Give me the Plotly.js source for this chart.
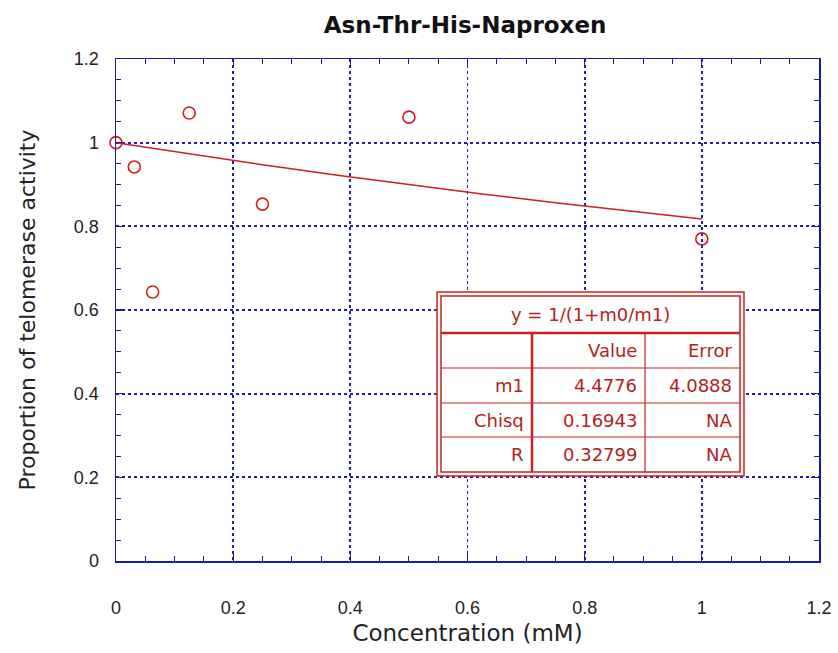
<!DOCTYPE html>
<html>
<head>
<meta charset="utf-8">
<script src="https://cdn.plot.ly/plotly-3.0.1.min.js"></script>
<style>html,body{margin:0;padding:0;background:#fff;}#chart{width:838px;height:653px;}</style>
</head>
<body>
<div id="chart"></div>
<script>
// Data
const concentration = [0, 0.03125, 0.0625, 0.125, 0.25, 0.5, 1.0];
const activity = [1.0, 0.942, 0.643, 1.071, 0.853, 1.061, 0.770];

// Fit: y = 1/(1+m0/m1), m0 = concentration
const fitTitle = 'y = 1/(1+m0/m1)';
const tableHeaders = ['', 'Value', 'Error'];
const tableRowNames = ['m1', 'Chisq', 'R'];
const tableValues = ['4.4776', '0.16943', '0.32799'];
const tableErrors = ['4.0888', 'NA', 'NA'];
const m1 = 4.4776;
const fitX = [0, 0.125, 0.25, 0.375, 0.5, 0.625, 0.75, 0.875, 1.0];
const fitY = fitX.map(x => 1 / (1 + x / m1));

const W = 838, H = 653;
const M = {l: 116, r: 19, t: 59, b: 92};
const pw = W - M.l - M.r, ph = H - M.t - M.b;
const px = x => (x - M.l) / pw;
const py = y => (H - M.b - y) / ph;

const red = '#cc1f1f';
const txtRed = '#b22222';
const navy = '#1a1aa0';
const gridBlue = '#2020b0';

const shapes = [];
const annotations = [];
function rect(x0, y0, x1, y1, w) {
  shapes.push({type: 'rect', xref: 'paper', yref: 'paper', x0: px(x0), x1: px(x1), y0: py(y1), y1: py(y0),
    line: {color: red, width: w}, fillcolor: 'rgba(255,255,255,1)', layer: 'above'});
}
function hline(x0, x1, y, w) {
  shapes.push({type: 'line', xref: 'paper', yref: 'paper', x0: px(x0), x1: px(x1), y0: py(y), y1: py(y),
    line: {color: red, width: w}, layer: 'above'});
}
function vline(x, y0, y1, w) {
  shapes.push({type: 'line', xref: 'paper', yref: 'paper', x0: px(x), x1: px(x), y0: py(y0), y1: py(y1),
    line: {color: red, width: w}, layer: 'above'});
}
function text(t, x, y, align) {
  annotations.push({text: t, xref: 'paper', yref: 'paper', x: px(x), y: py(y), showarrow: false,
    xanchor: align, yanchor: 'middle', font: {family: 'DejaVu Sans, sans-serif', size: 18, color: txtRed}});
}

// table geometry (pixels)
const L0 = 437, R0 = 744, T0 = 292, B0 = 476;
const L1 = 441, R1 = 740, T1 = 296, B1 = 472;
const c1 = 532, c2 = 645;
const rowsY = [333, 368, 403, 437];
rect(L0, T0, R0, B0, 1.5);
rect(L1, T1, R1, B1, 1.5);
hline(L1, R1, rowsY[0], 2.5);
hline(L1, R1, rowsY[1], 1.2);
hline(L1, R1, rowsY[2], 1.2);
hline(L1, R1, rowsY[3], 1.2);
vline(c1, rowsY[0], B1, 2.5);
vline(c2, rowsY[0], B1, 1.2);

text(fitTitle, (L1 + R1) / 2, (T1 + rowsY[0]) / 2, 'center');
text(tableHeaders[1], c2 - 6, (rowsY[0] + rowsY[1]) / 2, 'right');
text(tableHeaders[2], R1 - 6, (rowsY[0] + rowsY[1]) / 2, 'right');
const rowBounds = [rowsY[1], rowsY[2], rowsY[3], B1];
for (let i = 0; i < tableRowNames.length; i++) {
  const yc = (rowBounds[i] + rowBounds[i + 1]) / 2;
  text(tableRowNames[i], c1 - 6, yc, 'right');
  text(tableValues[i], c2 - 6, yc, 'right');
  text(tableErrors[i], R1 - 6, yc, 'right');
}

const traces = [
  {x: fitX, y: fitY, mode: 'lines', type: 'scatter', line: {color: red, width: 1.5}, hoverinfo: 'skip'},
  {x: concentration, y: activity, mode: 'markers', type: 'scatter', cliponaxis: false,
   marker: {symbol: 'circle-open', size: 12, color: red, line: {width: 1.6, color: red}}}
];

const axisCommon = {
  showline: true, linecolor: navy, linewidth: 1.5, mirror: 'allticks',
  ticks: 'inside', ticklen: 8, tickwidth: 1.2, tickcolor: navy,
  showgrid: true, gridcolor: gridBlue, gridwidth: 1.8, griddash: '3px,3px',
  zeroline: false, tickfont: {family: 'Liberation Sans, Arial, sans-serif', size: 18, color: '#222'},
  fixedrange: true
};

const layout = {
  width: W, height: H,
  margin: M,
  paper_bgcolor: '#fff', plot_bgcolor: '#fff',
  showlegend: false,
  title: {text: '<b>Asn-Thr-His-Naproxen</b>', x: 0.555, xanchor: 'center', y: 1 - 25 / H, yanchor: 'middle',
    font: {family: 'DejaVu Sans, sans-serif', size: 23, color: '#111'}},
  xaxis: Object.assign({}, axisCommon, {
    range: [0, 1.2], dtick: 0.2, tick0: 0,
    ticklabelstandoff: 30,
    minor: {ticks: 'inside', ticklen: 5, dtick: 0.05, tickcolor: navy, tickwidth: 1, showgrid: false},
    title: {text: 'Concentration (mM)', standoff: 8, font: {family: 'DejaVu Sans, sans-serif', size: 23, color: '#222'}}
  }),
  yaxis: Object.assign({}, axisCommon, {
    range: [0, 1.2], dtick: 0.2, tick0: 0,
    ticklabelstandoff: 12,
    minor: {ticks: 'inside', ticklen: 5, dtick: 0.05, tickcolor: navy, tickwidth: 1, showgrid: false},
    title: {text: 'Proportion of telomerase activity', standoff: 32, font: {family: 'DejaVu Sans, sans-serif', size: 22, color: '#222'}}
  }),
  shapes: shapes,
  annotations: annotations
};

Plotly.newPlot('chart', traces, layout, {displayModeBar: false, staticPlot: true});
</script>
</body>
</html>
